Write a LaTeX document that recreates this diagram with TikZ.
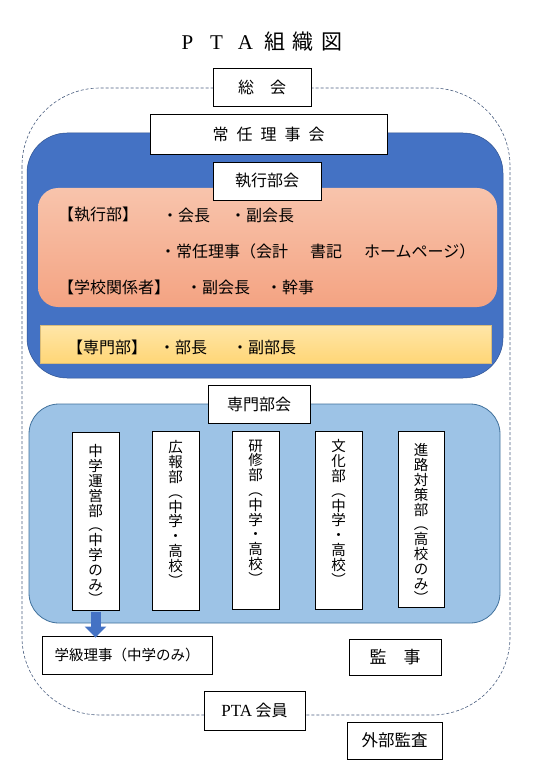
\documentclass[tikz,border=0pt]{standalone}
\usepackage{fontspec}
\setmainfont{Noto Sans CJK JP}
\newfontfamily\latinserif{Liberation Serif}
\usetikzlibrary{arrows.meta}
\definecolor{darkblue}{HTML}{4472C4}
\definecolor{darkblueedge}{HTML}{2F528F}
\definecolor{lightblue}{HTML}{9DC3E6}
\definecolor{lightblueedge}{HTML}{41719C}
\definecolor{orangetop}{HTML}{F8C4AC}
\definecolor{orangebot}{HTML}{F4A382}
\definecolor{yellowtop}{HTML}{FFE6A8}
\definecolor{yellowbot}{HTML}{FFD677}
\definecolor{dashcol}{HTML}{4A5F80}
\tikzset{
  wbox/.style={draw=black, line width=0.9pt, fill=white, inner sep=0pt, font=\fontsize{16}{18}\selectfont},
  vtext/.style={anchor=north, inner sep=0pt, align=center, font=\fontsize{14.5}{14.8}\selectfont},
  ltext/.style={anchor=west, inner sep=0pt, font=\fontsize{16}{18}\selectfont},
}
\begin{document}
\begin{tikzpicture}[x=1pt, y=-1pt]
\useasboundingbox (0,0) rectangle (539,775);
\fill[white] (0,0) rectangle (539,775);

% title
\node[inner sep=0pt, font=\fontsize{21}{24}\selectfont] (title) at (260,42)
  {{\latinserif\makebox[21pt]{P}}\hspace{8pt}{\latinserif\makebox[21pt]{T}}\hspace{8pt}{\latinserif\makebox[21pt]{A}}\hspace{8pt}組\hspace{8pt}織\hspace{8pt}図};

% outer dashed member area
\draw[dashcol, line width=0.6pt, dash pattern=on 3pt off 2pt, rounded corners=78pt] (22,88) rectangle (510,715);

% dark blue area
\fill[darkblue, draw=darkblueedge, line width=0.5pt, rounded corners=40pt] (27,133) rectangle (503,378);

% orange executive area
\shade[top color=orangetop, bottom color=orangebot, rounded corners=20pt] (38,188) rectangle (497,307);

% yellow area
\shade[top color=yellowtop, bottom color=yellowbot, draw=yellowbot!70!gray, line width=0.5pt] (40,325) rectangle (491,363);

% light blue area
\fill[lightblue, draw=lightblueedge, line width=0.8pt, rounded corners=30pt] (29,404) rectangle (500,623);

% boxes
\node[wbox, minimum width=98pt, minimum height=38pt] (sokai) at (262,87) {総　会};
\node[wbox, minimum width=237pt, minimum height=40pt] (joninri) at (268.5,134) {常\hspace{0.5em}任\hspace{0.5em}理\hspace{0.5em}事\hspace{0.5em}会};
\node[wbox, minimum width=108pt, minimum height=38pt] (shikko) at (267,181) {執行部会};

% orange texts
\node[ltext] (t1a) at (58,215) {【執行部】};
\node[ltext] (t1b) at (162,215) {・会長\hspace{20pt}・副会長};
\node[ltext] (t2) at (160,251) {・常任理事（会計\hspace{22pt}書記\hspace{22pt}ホームページ）};
\node[ltext] (t3) at (58,287) {【学校関係者】　・副会長　・幹事};

% yellow text
\node[ltext] (y1) at (67,347) {【専門部】};
\node[ltext] (y2) at (159,347) {・部長\hspace{25pt}・副部長};

% specialised committee
\node[wbox, minimum width=102pt, minimum height=38pt] (senmon) at (259,404) {専門部会};

\node[wbox, minimum width=47pt, minimum height=178pt] (b1) at (95.5,521) {};
\node[wbox, minimum width=47pt, minimum height=179pt] (b2) at (175.5,520.5) {};
\node[wbox, minimum width=47pt, minimum height=178pt] (b3) at (255.5,520) {};
\node[wbox, minimum width=47pt, minimum height=178pt] (b4) at (338.5,520) {};
\node[wbox, minimum width=46pt, minimum height=176pt] (b5) at (421,519) {};

\node[vtext] (v1) at ([yshift=-13pt]b1.north) {中\\学\\運\\営\\部\\︵\\中\\学\\の\\み\\︶};
\node[vtext] (v2) at ([yshift=-10pt]b2.north) {広\\報\\部\\︵\\中\\学\\・\\高\\校\\︶};
\node[vtext] (v3) at ([yshift=-9pt]b3.north) {研\\修\\部\\︵\\中\\学\\・\\高\\校\\︶};
\node[vtext] (v4) at ([yshift=-9pt]b4.north) {文\\化\\部\\︵\\中\\学\\・\\高\\校\\︶};
\node[vtext] (v5) at ([yshift=-13pt]b5.north) {進\\路\\対\\策\\部\\︵\\高\\校\\の\\み\\︶};

% bottom boxes
\node[wbox, minimum width=170pt, minimum height=38pt, font=\fontsize{14.5}{17}\selectfont] (gk) at (127,655) {学級理事（中学のみ）};
\node[wbox, minimum width=92pt, minimum height=36pt, font=\fontsize{17}{19}\selectfont] (kanji) at (395,657) {監　事};
\node[wbox, minimum width=101pt, minimum height=39pt] (kaiin) at (254.5,710.5) {{\latinserif\fontsize{17}{19}\selectfont PTA} 会員};
\node[wbox, minimum width=95pt, minimum height=37pt, font=\fontsize{16.5}{19}\selectfont] (gaibu) at (394.5,740.5) {外部監査};

% arrow
\draw[darkblue, line width=10pt, -{Triangle[width=21pt,length=11pt]}] ([yshift=-1.5pt]b1.south) -- ([yshift=-2pt]b1.south |- gk.north);
\end{tikzpicture}
\end{document}
